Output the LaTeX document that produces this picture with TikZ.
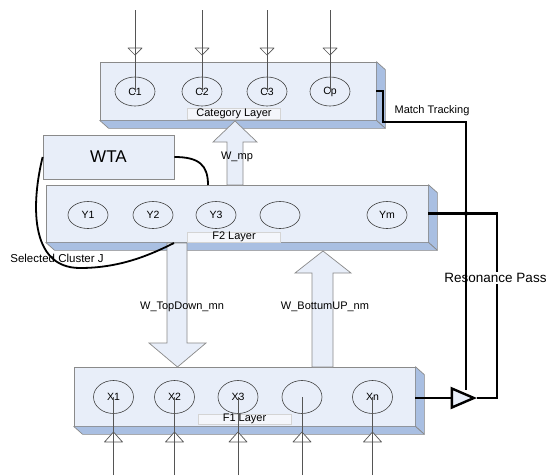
\documentclass[tikz,border=0pt]{standalone}
\usepackage{fontspec}
\setmainfont{Liberation Sans}
\usetikzlibrary{shapes.geometric,calc}
\definecolor{facec}{HTML}{E8EEF9}
\definecolor{sidec}{HTML}{A9BFE2}
\definecolor{edgec}{HTML}{8A8A8A}
\definecolor{linec}{HTML}{555555}
\definecolor{lblfill}{HTML}{F4F6FB}
\definecolor{lbledge}{HTML}{D4D4D4}
\newcommand\depthfaces[1]{%
  \filldraw[sidefc] (#1.north east) -- ($(#1.north east)+(9,8)$) -- ($(#1.south east)+(9,8)$) -- (#1.south east) -- cycle;
  \filldraw[sidefc] (#1.south west) -- (#1.south east) -- ($(#1.south east)+(9,8)$) -- ($(#1.south west)+(9,8)$) -- cycle;}
\tikzset{
  layerbox/.style={rectangle, draw=edgec, fill=facec, line width=0.7pt, inner sep=0pt},
  sidefc/.style={fill=sidec, draw=edgec, line width=0.7pt, line join=round},
  unit/.style={ellipse, draw=black!75, line width=0.6pt, minimum width=40pt, inner sep=0pt, font=\fontsize{10.5}{12}\selectfont},
  layerlbl/.style={rectangle, draw=lbledge, fill=lblfill, line width=0.5pt, minimum width=93pt, minimum height=11pt, inner sep=0pt, font=\fontsize{11}{12}\selectfont},
  inline/.style={draw=linec, line width=0.7pt},
  smalltri/.style={fill=white, draw=linec, line width=0.7pt, line join=round},
  blockarrow/.style={fill=facec, draw=edgec, line width=0.7pt, line join=miter},
  thickline/.style={draw=black, line width=2.2pt, line join=miter},
  txt/.style={font=\fontsize{11}{13}\selectfont, inner sep=0pt},
}
\begin{document}
\begin{tikzpicture}[x=1pt,y=-1pt]
\useasboundingbox (0,0) rectangle (547,475);
\fill[white] (0,0) rectangle (547,475);

% ---------- Category layer ----------
\node[layerbox, minimum width=276pt, minimum height=58pt] (cat) at (238,91) {};
\depthfaces{cat}
\node[layerlbl] (catlbl) at (234,114) {Category Layer};
\foreach \n/\x in {C1/135,C2/202,C3/267}{
  \node[unit, minimum height=29pt] (\n) at (\x,91.5) {\n};
}
\node[unit, minimum height=29pt] (Cp) at (330,91.5) {Cp};

% ---------- WTA ----------
\node[layerbox, minimum width=131pt, minimum height=44pt, font=\fontsize{17}{19}\selectfont] (wta) at (108.5,157) {WTA};

% ---------- F2 layer ----------
\node[layerbox, minimum width=382pt, minimum height=57pt] (f2) at (237,213.5) {};
\depthfaces{f2}
\node[layerlbl, minimum height=10pt] (f2lbl) at (234,237) {F2 Layer};
\foreach \n/\x in {Y1/88,Y2/153,Y3/216}{
  \node[unit, minimum height=27pt] (\n) at (\x,215) {\n};
}
\node[unit, minimum height=27pt] (Y4) at (280,215) {};
\node[unit, minimum height=27pt] (Ym) at (387,215) {Ym};

% ---------- F1 layer ----------
\node[layerbox, minimum width=341pt, minimum height=59pt] (f1) at (244.5,396.5) {};
\depthfaces{f1}
\node[layerlbl, minimum height=10pt] (f1lbl) at (244.5,419) {F1 Layer};
\foreach \n/\x in {X1/113.5,X2/174.5,X3/238}{
  \node[unit, minimum height=33pt] (\n) at (\x,397) {\n};
}
\node[unit, minimum height=33pt] (X4) at (302,397) {};
\node[unit, minimum height=33pt] (Xn) at (372.5,397) {Xn};

% ---------- block arrows ----------
\filldraw[blockarrow] (227,185) -- (227,142) -- (213,142) -- (235,121) -- (257,142) -- (243,142) -- (243,185) -- cycle;
\node[txt] (wmp) at (237,157) {W\_mp};
\filldraw[blockarrow] (167,243) -- (167,343) -- (149,343) -- (177.5,367) -- (206,343) -- (187,343) -- (187,243) -- cycle;
\node[txt] (wtd) at (182,307) {W\_TopDown\_mn};
\filldraw[blockarrow] (312,367) -- (312,273) -- (295,273) -- (323,251) -- (351,273) -- (333,273) -- (333,367) -- cycle;
\node[txt] (wbu) at (325,307) {W\_BottumUP\_nm};

% ---------- WTA connections ----------
\coordinate (wtaend) at (208,185);
\draw[black, line width=1.8pt] (wta.east) .. controls (199,157) and (208,165) .. (wtaend);
\coordinate (selend) at (174,243);
\draw[black, line width=1.8pt] (wta.west) .. controls (32,200) and (28,268) .. (80,268) .. controls (120,268) and (150,255) .. (selend);
\node[txt, font=\fontsize{11.5}{13}\selectfont] (sel) at (57,258) {Selected Cluster J};

% ---------- comparator ----------
\node[isosceles triangle, isosceles triangle stretches, minimum width=19pt, minimum height=22pt, inner sep=0pt, draw=black, line width=2.4pt, fill=facec, anchor=apex] (cmp) at (477,398) {};
\draw[thickline] (f1.east |- cmp.apex) -- (cmp.west |- cmp.apex);
\draw[thickline] (f2.east) -- (497,213.5) -- (497,398) -- (cmp.apex);
\node[txt, fill=white, inner sep=1pt, font=\fontsize{13.5}{15}\selectfont] (res) at (495.5,278) {Resonance Pass};
\coordinate (mt1) at (383,91);
\coordinate (mt2) at (383,122);
\coordinate (mt3) at (466,122);
\draw[thickline] (cat.east) -- (mt1) -- (mt2) -- (mt3) -- (466,0 |- cmp.north);
\fill[black] (466,213.5) circle (2.2pt);
\node[txt] (mtl) at (432,111) {Match Tracking};

% ---------- inputs ----------
\foreach \n/\x in {C1/135,C2/202,C3/267,Cp/330}{
  \filldraw[smalltri] ({\x-7},48) -- ({\x+7},48) -- (\x,55) -- cycle;
  \coordinate (in\n) at (\x,10);
  \draw[inline] (in\n) -- (\n.center);
}
\foreach \n/\x in {X1/113.5,X2/174.5,X3/238,X4/302,Xn/372.5}{
  \filldraw[smalltri] ({\x-9},442) -- ({\x+9},442) -- (\x,432) -- cycle;
  \coordinate (in\n) at (\x,475);
  \draw[inline] (in\n) -- (\n.center);
}
\end{tikzpicture}
\end{document}
